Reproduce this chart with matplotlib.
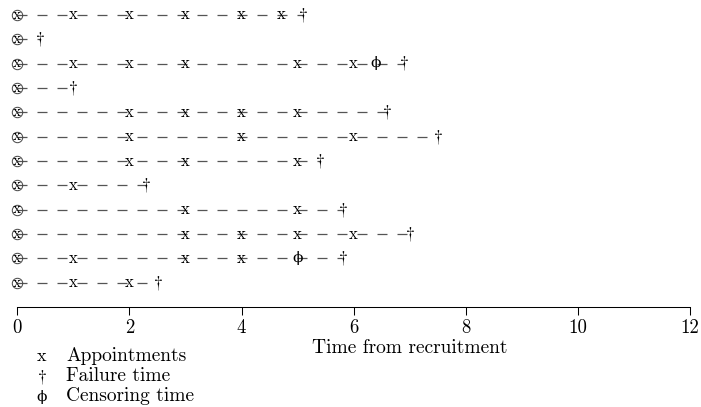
import matplotlib
matplotlib.use('Agg')
import matplotlib.pyplot as plt

plt.rcParams['mathtext.fontset'] = 'cm'
plt.rcParams['font.family'] = 'cmr10'
plt.rcParams['axes.formatter.use_mathtext'] = True
plt.rcParams['lines.scale_dashes'] = False

# ---- data (one entry per subject, top to bottom) ----
appointments = [
    [1, 2, 3, 4, 4.7],
    [],
    [1, 2, 3, 5, 6],
    [],
    [2, 3, 4, 5],
    [2, 4, 6],
    [2, 3, 5],
    [1],
    [3, 5],
    [3, 4, 5, 6],
    [1, 3, 4],
    [1, 2],
]
failure_times = [5.1, 0.4, 6.9, 1.0, 6.6, 7.5, 5.4, 2.3, 5.8, 7.0, 5.8, 2.5]
censoring_times = [None, None, 6.4, None, None, None, None, None, None, None, 5.0, None]
xticks = [0, 2, 4, 6, 8, 10, 12]
xlabel = "Time from recruitment"
legend_symbols = ["x", r"$\dagger$", "\u03d5"]
legend_labels = ["Appointments", "Failure time", "Censoring time"]

W, H = 701, 407
fig = plt.figure(figsize=(W / 100, H / 100), dpi=100)
ax = fig.add_axes([17.3 / W, 100 / H, 672.7 / W, 307 / H])

phi_kw = dict(family='DejaVu Serif', fontsize=11)
n = len(failure_times)
line_kw = dict(ls=(0, (7.2, 7.2)), color='#555555', lw=0.9, zorder=1)
for i in range(n):
    y = n - i
    end = failure_times[i]
    ax.plot([0, end], [y, y], **line_kw)
    ax.plot([0], [y], marker='o', ms=7.5, mfc='none', mec='#444444', mew=0.7,
            zorder=2, clip_on=False)
    ax.text(0, y, 'x', ha='center', va='center', fontsize=11, zorder=3)
    for t in appointments[i]:
        ax.text(t, y, 'x', ha='center', va='center', fontsize=12, zorder=3)
    ax.text(end, y, r'$\dagger$', ha='center', va='center', fontsize=13, zorder=3)
    if censoring_times[i] is not None:
        ax.text(censoring_times[i], y, "\u03d5", ha='center', va='center',
                zorder=3, **phi_kw)

ax.set_xlim(0, 12)
ax.set_ylim(0, 307 / 24.35)
ax.set_xticks(xticks)
ax.set_xticklabels([str(t) for t in xticks])
ax.set_yticks([])
for s in ['left', 'top', 'right']:
    ax.spines[s].set_visible(False)
ax.spines['bottom'].set_linewidth(0.75)
ax.tick_params(axis='x', direction='out', length=5.5, width=0.75, pad=3.5,
               labelsize=13.5)
ax.set_xlabel(xlabel, fontsize=14)
ax.xaxis.set_label_coords((410 - 17.3) / 672.7, (307 - 348) / 307)
ax.xaxis.label.set_va('center')

# legend as text table below the axis
leg_base = [361, 381, 401]
for k, (sym, lab, yb) in enumerate(zip(legend_symbols, legend_labels, leg_base)):
    kw = phi_kw if k == 2 else dict(fontsize=13)
    fig.text(42 / W, 1 - yb / H, sym, ha='center', va='baseline', **kw)
    fig.text(66 / W, 1 - yb / H, lab, ha='left', va='baseline', fontsize=14)

fig.savefig('out.png', dpi=100)
